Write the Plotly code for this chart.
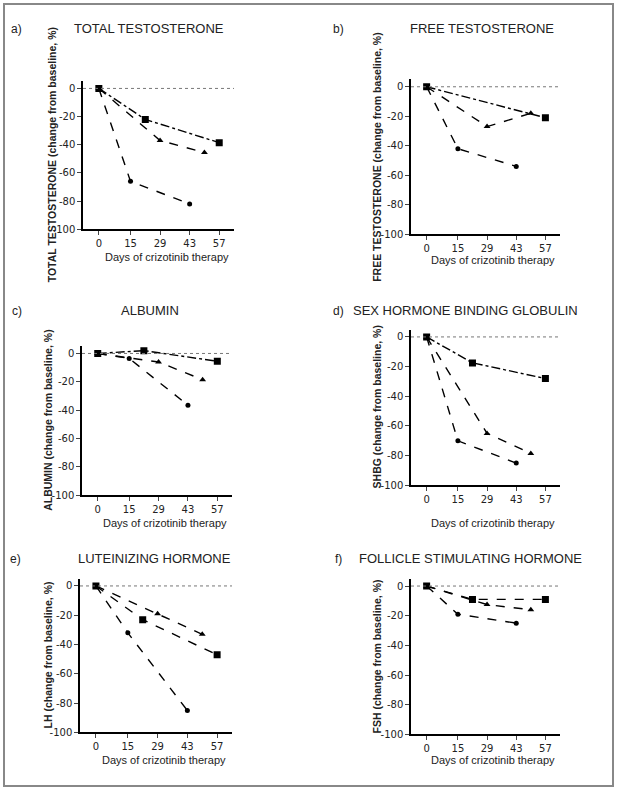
import plotly.graph_objects as go

# ---------------------------------------------------------------------------
# data (percent change from baseline) -----------------------------------------
# ---------------------------------------------------------------------------
day_ticks = [0, 15, 29, 43, 57]
pct_ticks = [0, -20, -40, -60, -80, -100]
days_sq = [0, 22, 57]
days_tri = [0, 29, 50]
days_circ = [0, 15, 43]

tt_sq = [0, -22, -38.5]
tt_tri = [0, -37, -45.5]
tt_circ = [0, -66, -82]

ft_sq = [0, None, -21]
ft_tri = [0, -27, -18]
ft_circ = [0, -42, -54]

alb_sq = [0, 2, -5.5]
alb_tri = [0, -6, -18.5]
alb_circ = [0, -3.5, -36.5]

shbg_sq = [0, -17.5, -28]
shbg_tri = [0, -65, -78.5]
shbg_circ = [0, -70, -85]

lh_sq = [0, -23, -47]
lh_tri = [0, -19, -33]
lh_circ = [0, -32, -85]

fsh_sq = [0, -9, -9]
fsh_tri = [0, -12.5, -16]
fsh_circ = [0, -19, -25]

W, H = 617, 798

# panel: label, title, y title, series, axis box in px (left, right, top, bottom),
# title position, y-title x, x-title y, square line style
panels = [
    ("a)", "TOTAL TESTOSTERONE", "TOTAL TESTOSTERONE (change from baseline, %)",
     (tt_sq, tt_tri, tt_circ), (83, 234, 82, 231), (149, 16, 29), 52, 259, "dashdot"),
    ("b)", "FREE TESTOSTERONE", "FREE TESTOSTERONE (change from baseline, %)",
     (ft_sq, ft_tri, ft_circ), (411, 560, 80, 236), (482, 338, 29), 377, 262, "dashdot"),
    ("c)", "ALBUMIN", "ALBUMIN (change from baseline, %)",
     (alb_sq, alb_tri, alb_circ), (82, 232, 349, 499), (150, 17, 313), 48, 527, "dashdot"),
    ("d)", "SEX HORMONE BINDING GLOBULIN", "SHBG (change from baseline, %)",
     (shbg_sq, shbg_tri, shbg_circ), (411, 560, 332, 489), (465, 338, 313), 377, 527, "dashdot"),
    ("e)", "LUTEINIZING HORMONE", "LH (change from baseline, %)",
     (lh_sq, lh_tri, lh_circ), (80, 232, 583, 738), (154, 15, 563), 48, 766, "dash"),
    ("f)", "FOLLICLE STIMULATING HORMONE", "FSH (change from baseline, %)",
     (fsh_sq, fsh_tri, fsh_circ), (411, 560, 583, 740), (470, 338, 563), 377, 766, "dash"),
]

fig = go.Figure()
annotations = []
shapes = []
layout_axes = {}


def note(x, y, text, size, **kw):
    return dict(x=x / W, y=1 - y / H, xref="paper", yref="paper", text=text,
                showarrow=False, xanchor="center", yanchor="middle",
                font=dict(family="Liberation Sans", size=size, color="#222"), **kw)


for i, (lab, title, ytitle, series, box, tpos, ytx, xty, sq_dash) in enumerate(panels):
    n = "" if i == 0 else str(i + 1)
    xa, ya = "x" + n, "y" + n
    left, right, top, bottom = box
    sq, tri, circ = series

    for xs, ys, sym, size, dash in (
        (days_sq, sq, "square", 7, sq_dash),
        (days_tri, tri, "triangle-up", 6, "dash"),
        (days_circ, circ, "circle", 5, "dash"),
    ):
        fig.add_trace(go.Scatter(
            x=xs, y=ys, xaxis=xa, yaxis=ya, mode="lines+markers",
            connectgaps=True,
            line=dict(color="black", width=1.4, dash=dash),
            marker=dict(symbol=sym, size=size, color="black"),
            showlegend=False,
        ))

    layout_axes["xaxis" + n] = dict(
        domain=[left / W, right / W], anchor=ya, range=[-7.5, 64],
        tickvals=day_ticks, ticks="outside", ticklen=4, tickwidth=1.3,
        showline=True, linecolor="black", linewidth=1.5,
        showgrid=False, zeroline=False,
        tickfont=dict(family="DejaVu Sans", size=10, color="#222"),
    )
    layout_axes["yaxis" + n] = dict(
        domain=[1 - bottom / H, 1 - top / H], anchor=xa, range=[-100, 5],
        tickvals=pct_ticks, ticktext=[str(v) for v in pct_ticks],
        ticks="outside", ticklen=4,
        tickwidth=1.3, showline=True, linecolor="black", linewidth=1.5,
        showgrid=False, zeroline=False,
        tickfont=dict(family="DejaVu Sans", size=10, color="#222"),
    )

    # dotted baseline
    shapes.append(dict(type="line", xref=xa + " domain", yref=ya, x0=0, x1=1,
                       y0=0, y1=0, line=dict(color="#777", width=1, dash="dot")))

    tx, lx, ty = tpos
    annotations.append(note(tx, ty, title, 13))
    annotations.append(note(lx, ty, lab, 12))
    annotations.append(note(ytx, (top + bottom) / 2, "<b>" + ytitle + "</b>", 10.5,
                            textangle=-90))
    annotations.append(note((left + right) / 2 + 8, xty, "Days of crizotinib therapy", 11))

# outer frame
shapes.append(dict(type="rect", xref="paper", yref="paper",
                   x0=4 / W, x1=613 / W, y0=1 - 792 / H, y1=1 - 4 / H,
                   line=dict(color="#888", width=2)))

fig.update_layout(
    width=W, height=H, margin=dict(l=0, r=0, t=0, b=0),
    paper_bgcolor="white", plot_bgcolor="white",
    annotations=annotations, shapes=shapes, **layout_axes,
)

# drop the default 8px page margin so the figure sits at the window origin
fig.write_html(
    "out.html",
    config={"displayModeBar": False},
    post_script="document.body.style.margin='0';document.body.style.overflow='hidden';",
)
